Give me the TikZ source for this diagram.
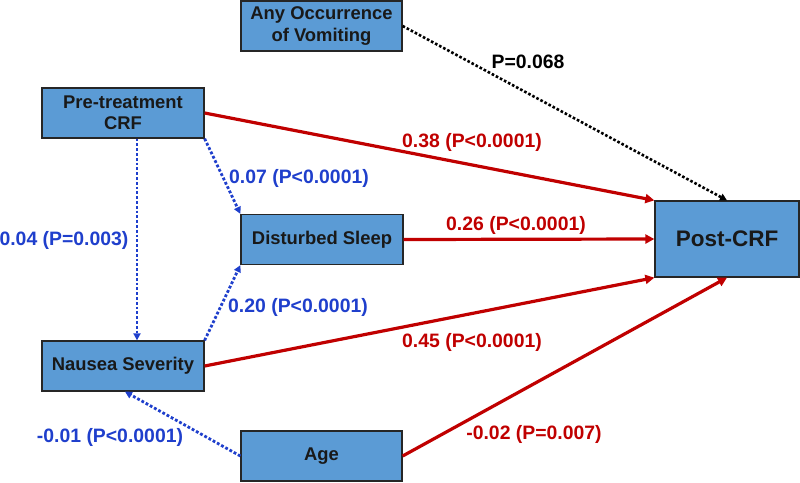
\documentclass[tikz,border=0pt]{standalone}
\usepackage{fontspec}
\setmainfont{Liberation Sans}
\usetikzlibrary{arrows.meta}
\definecolor{boxblue}{HTML}{5B9BD5}
\definecolor{arrred}{HTML}{C00000}
\definecolor{arrblue}{HTML}{1F3FCC}
\tikzset{
  box/.style={draw=black!85, line width=1.3pt, fill=boxblue, inner sep=0pt, align=center, font=\bfseries\fontsize{18.4}{21.5}\selectfont, text=black!90},
  redarr/.style={draw=arrred, line width=3.2pt, -{Triangle[length=9pt,width=9pt]}},
  bluearr/.style={draw=arrblue, line width=2.8pt, dotted, -{Triangle[length=7pt,width=7pt]}},
  blackarr/.style={draw=black, line width=2.6pt, dotted, -{Triangle[length=7pt,width=7pt]}},
  lab/.style={font=\bfseries\fontsize{19.4}{22}\selectfont, inner sep=0pt},
  redlab/.style={lab, text=arrred},
  bluelab/.style={lab, text=arrblue},
}
\begin{document}
\begin{tikzpicture}[x=1pt,y=-1pt]
\useasboundingbox (0,0) rectangle (800,482);
% boxes
\node[box, minimum width=161pt, minimum height=50pt] (vom) at (321.5,26) {Any Occurrence\\of Vomiting};
\node[box, minimum width=162pt, minimum height=50pt] (pre) at (123,113) {Pre-treatment\\CRF};
\node[box, minimum width=162pt, minimum height=50pt] (sleep) at (322,239.5) {Disturbed Sleep};
\node[box, minimum width=162pt, minimum height=50pt] (naus) at (123,366) {Nausea Severity};
\node[box, minimum width=161pt, minimum height=50pt] (age) at (321.5,456) {Age};
\node[box, minimum width=144pt, minimum height=76pt, font=\bfseries\fontsize{22.5}{26}\selectfont] (post) at (727,239) {Post-CRF};
% arrows
\draw[blackarr] (vom.east) -- (post.north);
\draw[redarr] (pre.east) -- (post.north west);
\draw[redarr] (sleep.east) -- (post.west);
\draw[redarr] (naus.east) -- (post.south west);
\draw[redarr] (age.east) -- (post.south);
\draw[bluearr] (pre.south east) -- (sleep.north west);
\draw[bluearr] ([xshift=14pt]pre.south) -- ([xshift=14pt]naus.north);
\draw[bluearr] (naus.north east) -- (sleep.south west);
\draw[bluearr] (age.west) -- ([xshift=2pt]naus.south);
% labels
\node[lab] (l1) at (528,62) {P=0.068};
\node[redlab] (l2) at (472,142) {0.38 (P<0.0001)};
\node[bluelab] (l3) at (299,178) {0.07 (P<0.0001)};
\node[bluelab] (l4) at (64,240) {0.04 (P=0.003)};
\node[redlab] (l5) at (516,225) {0.26 (P<0.0001)};
\node[bluelab] (l6) at (298,307) {0.20 (P<0.0001)};
\node[redlab] (l7) at (472,342) {0.45 (P<0.0001)};
\node[bluelab] (l8) at (110,437) {-0.01 (P<0.0001)};
\node[redlab] (l9) at (534,434) {-0.02 (P=0.007)};
\end{tikzpicture}
\end{document}
